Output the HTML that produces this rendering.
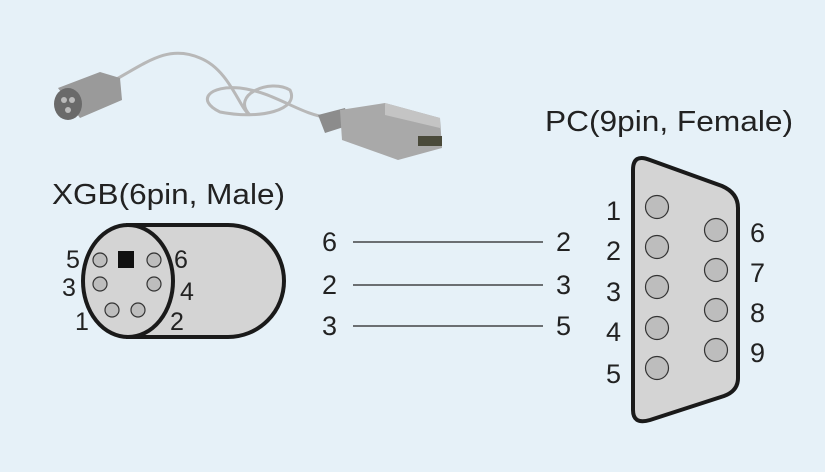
<!DOCTYPE html>
<html><head><meta charset="utf-8"><style>
html,body{margin:0;padding:0;background:#e6f1f8;}
svg{display:block;}
text{font-family:"Liberation Sans",sans-serif;fill:#222;}
</style></head><body>
<svg width="825" height="472" viewBox="0 0 825 472" xmlns="http://www.w3.org/2000/svg">
<rect width="825" height="472" fill="#e6f1f8"/>
<g>
<path d="M115,80 C150,60 170,45 200,58 C230,70 240,110 250,115 C230,95 270,78 290,90 C300,110 260,120 220,112 C195,100 210,85 240,88 C275,92 300,115 330,118" fill="none" stroke="#b8b8b8" stroke-width="3"/>
<path d="M58,88 L100,72 L120,78 L122,100 L80,118 Z" fill="#9a9a9a"/>
<ellipse cx="68" cy="104" rx="14" ry="16" fill="#6a6a6a"/>
<circle cx="64" cy="100" r="3" fill="#bbb"/><circle cx="72" cy="100" r="3" fill="#bbb"/><circle cx="68" cy="110" r="3" fill="#bbb"/>
<path d="M318,115 L345,108 L350,125 L325,133 Z" fill="#8c8c8c"/>
<path d="M340,110 L385,103 L440,118 L442,148 L398,160 L342,140 Z" fill="#a9a9a9"/>
<path d="M385,103 L440,118 L440,128 L385,115 Z" fill="#c4c4c4"/>
<rect x="418" y="136" width="24" height="10" fill="#4a4a3a"/>
</g>
<text x="52" y="204" font-size="29" textLength="233" lengthAdjust="spacingAndGlyphs">XGB(6pin, Male)</text>
<text x="545" y="131" font-size="29" textLength="248" lengthAdjust="spacingAndGlyphs">PC(9pin, Female)</text>
<path d="M128,225 L228,225 A56,56 0 0 1 228,337 L128,337 Z" fill="#d4d4d4" stroke="#1a1a1a" stroke-width="4"/>
<ellipse cx="128" cy="281" rx="45" ry="56" fill="#d4d4d4" stroke="#1a1a1a" stroke-width="4"/>
<g fill="#bdbdbd" stroke="#333" stroke-width="1.2">
<circle cx="100" cy="260" r="7"/><circle cx="154" cy="260" r="7"/>
<circle cx="100" cy="284" r="7"/><circle cx="154" cy="284" r="7"/>
<circle cx="112" cy="310" r="7"/><circle cx="138" cy="310" r="7"/>
</g>
<rect x="118" y="251" width="16" height="17" fill="#111"/>
<g font-size="25">
<text x="66" y="268">5</text><text x="174" y="268">6</text>
<text x="62" y="296">3</text><text x="180" y="300">4</text>
<text x="75" y="330">1</text><text x="170" y="330">2</text>
</g>
<g stroke="#222" stroke-width="1.3">
<line x1="353" y1="242" x2="543" y2="242"/>
<line x1="353" y1="285" x2="543" y2="285"/>
<line x1="353" y1="326" x2="543" y2="326"/>
</g>
<g font-size="27">
<text x="322" y="251">6</text><text x="556" y="251">2</text>
<text x="322" y="294">2</text><text x="556" y="294">3</text>
<text x="322" y="335">3</text><text x="556" y="335">5</text>
</g>
<path d="M633,170 Q633,153 650,160 L722,186 Q738,193 738,208 L738,378 Q738,391 724,396 L650,420 Q633,425 633,410 Z" fill="#d4d4d4" stroke="#1a1a1a" stroke-width="4"/>
<g fill="#bdbdbd" stroke="#333" stroke-width="1.2">
<circle cx="657" cy="207" r="11.5"/><circle cx="657" cy="247" r="11.5"/><circle cx="657" cy="287" r="11.5"/><circle cx="657" cy="328" r="11.5"/><circle cx="657" cy="368" r="11.5"/>
<circle cx="716" cy="230" r="11.5"/><circle cx="716" cy="270" r="11.5"/><circle cx="716" cy="310" r="11.5"/><circle cx="716" cy="350" r="11.5"/>
</g>
<g font-size="27">
<text x="606" y="220">1</text><text x="606" y="260">2</text><text x="606" y="301">3</text><text x="606" y="341">4</text><text x="606" y="383">5</text>
<text x="750" y="242">6</text><text x="750" y="282">7</text><text x="750" y="322">8</text><text x="750" y="362">9</text>
</g>
</svg>
</body></html>
